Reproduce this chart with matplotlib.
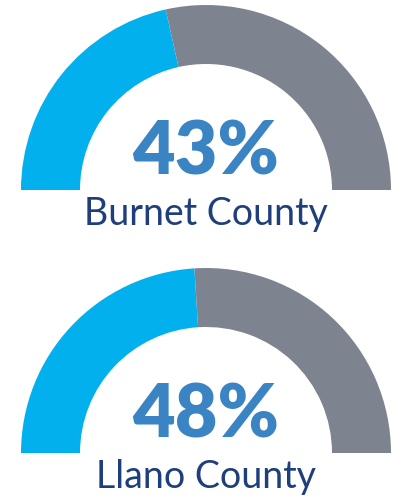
import matplotlib
matplotlib.use("Agg")
import matplotlib.pyplot as plt
from matplotlib.patches import Wedge

# data
counties = ["Burnet County", "Llano County"]
percents = [43, 48]

blue = "#02B0EE"
gray = "#7E8390"
pct_color = "#3A84C4"
name_color = "#1E3F7C"

fig = plt.figure(figsize=(4.01, 5.01), dpi=100)
ax = fig.add_axes([0, 0, 1, 1])
ax.set_xlim(0, 401)
ax.set_ylim(0, 501)
ax.set_aspect("equal")
ax.axis("off")

cx = 206
centers_y = [311, 48]
r_out, r_in = 185, 126

for name, pct, cy in zip(counties, percents, centers_y):
    split = 180 - pct / 100 * 180
    ax.add_patch(Wedge((cx, cy), r_out, split, 180, width=r_out - r_in,
                       facecolor=blue, edgecolor="none"))
    ax.add_patch(Wedge((cx, cy), r_out, 0, split, width=r_out - r_in,
                       facecolor=gray, edgecolor="none"))
    ax.text(cx, cy + 16, f"{pct}%", ha="center", va="baseline",
            fontsize=53, fontweight="heavy", family="Lato", color=pct_color)
    ax.text(cx, cy - 35, name, ha="center", va="baseline",
            fontsize=27, fontweight="normal", family="Lato", color=name_color)

fig.savefig("out.png", dpi=100)
